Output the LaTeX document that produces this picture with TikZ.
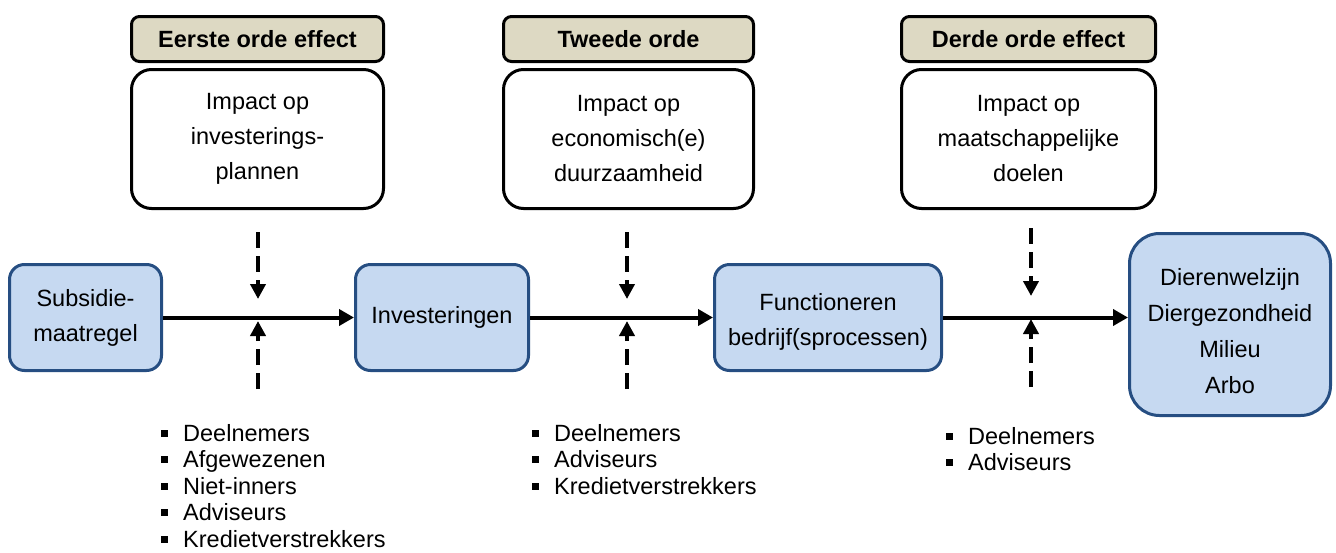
\documentclass[tikz,border=0pt]{standalone}
\usepackage{fontspec}
\setmainfont{Liberation Sans}
\usetikzlibrary{arrows.meta}
\definecolor{hdrfill}{HTML}{DDD9C3}
\definecolor{bluefill}{HTML}{C6D9F1}
\definecolor{blueedge}{RGB}{38,78,130}
\newcommand{\bul}{\makebox[22pt][l]{\rule[4.5pt]{7pt}{7pt}}}
\begin{document}
\begin{tikzpicture}[x=1pt,y=-1pt,
  every node/.style={font=\fontsize{23.5}{35}\selectfont, align=center, inner sep=0pt},
  hdr/.style={draw=black, fill=hdrfill, line width=3pt, rounded corners=8pt,
    minimum height=45pt, font=\fontsize{23.5}{28}\selectfont\bfseries},
  whitebox/.style={draw=black, fill=white, line width=3pt, rounded corners=20pt,
    minimum height=139pt},
  bluebox/.style={draw=blueedge, fill=bluefill, line width=3pt, rounded corners=15pt,
    minimum height=106pt},
  mainarrow/.style={line width=4pt, -{Triangle[length=15pt,width=16pt]}},
  dasharrow/.style={line width=4pt, dash pattern=on 16pt off 8pt, -{Triangle[length=15pt,width=15pt]}},
  bullist/.style={align=left, anchor=base west, font=\fontsize{23.5}{26.5}\selectfont}
]
\useasboundingbox (0,0) rectangle (1336,552);

% header boxes
\node[hdr, minimum width=252pt] (h1) at (257.5,39) {Eerste orde effect};
\node[hdr, minimum width=250pt] (h2) at (628.5,39) {Tweede orde};
\node[hdr, minimum width=254pt] (h3) at (1028.5,39) {Derde orde effect};

% white boxes
\node[whitebox, minimum width=252pt] (w1) at (257.5,139) {Impact op\\investerings-\\plannen};
\node[whitebox, minimum width=250pt] (w2) at (628.5,139) {Impact op\\economisch(e)\\duurzaamheid};
\node[whitebox, minimum width=254pt] (w3) at (1028.5,139) {Impact op\\maatschappelijke\\doelen};

% blue process boxes
\node[bluebox, minimum width=152pt] (sub) at (85.5,317.5) {Subsidie-\\maatregel};
\node[bluebox, minimum width=173pt] (inv) at (442,317.5) {Investeringen};
\node[bluebox, minimum width=227pt] (fun) at (828,317.5)
  {\parbox{220pt}{\centering\vspace*{8pt}Functioneren\\bedrijf(sprocessen)}};
\node[bluebox, minimum width=201pt, minimum height=182pt, rounded corners=30pt] (fin) at (1230,324.5)
  {\parbox{200pt}{\centering\fontsize{23.5}{36}\selectfont\vspace*{14pt}Dierenwelzijn\\Diergezondheid\\Milieu\\Arbo}};

% main arrows
\draw[mainarrow] (sub.east) -- (inv.west);
\draw[mainarrow] (inv.east) -- (fun.west);
\draw[mainarrow] (fun.east) -- (fun.east -| fin.west);

% dashed arrows
\coordinate (d1t) at (258,232); \coordinate (d1a) at (258,299);
\coordinate (d1b) at (258,389); \coordinate (d1c) at (258,321);
\coordinate (d2t) at (627,232); \coordinate (d2a) at (627,299);
\coordinate (d2b) at (627,389); \coordinate (d2c) at (627,321);
\coordinate (d3t) at (1031,228); \coordinate (d3a) at (1031,296);
\coordinate (d3b) at (1031,387); \coordinate (d3c) at (1031,319);
\draw[dasharrow] (d1t) -- (d1a);
\draw[dasharrow] (d1b) -- (d1c);
\draw[dasharrow] (d2t) -- (d2a);
\draw[dasharrow] (d2b) -- (d2c);
\draw[dasharrow] (d3t) -- (d3a);
\draw[dasharrow] (d3b) -- (d3c);

% bullet lists (anchor = baseline of last line)
\node[bullist] (l1) at (161,547) {\bul Deelnemers\\\bul Afgewezenen\\\bul Niet-inners\\\bul Adviseurs\\\bul Kredietverstrekkers};
\node[bullist] (l2) at (532,494) {\bul Deelnemers\\\bul Adviseurs\\\bul Kredietverstrekkers};
\node[bullist] (l3) at (946,470.5) {\bul Deelnemers\\\bul Adviseurs};
\end{tikzpicture}
\end{document}
